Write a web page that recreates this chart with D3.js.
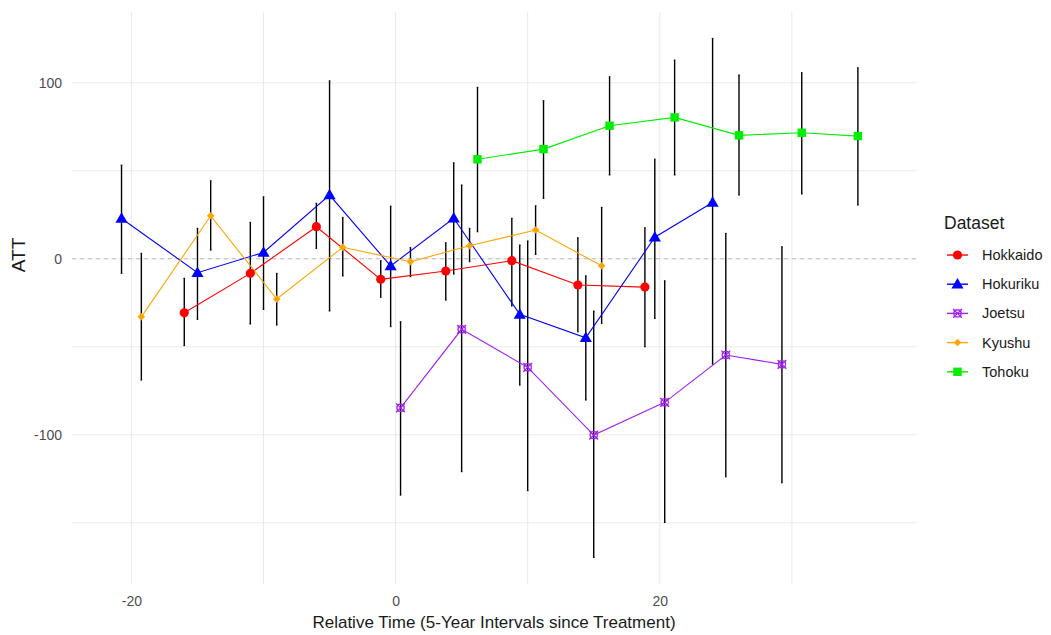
<!DOCTYPE html>
<html>
<head>
<meta charset="utf-8">
<script src="https://cdn.jsdelivr.net/npm/d3@7"></script>
<style>
  body { margin: 0; background: #ffffff; }
  svg { display: block; font-family: "Liberation Sans", Arial, sans-serif; }
</style>
</head>
<body>
<svg id="chart" width="1051" height="635"></svg>
<script>
// Event-study estimates (ATT) by dataset, with confidence bounds
const datasets = ["Hokkaido", "Hokuriku", "Joetsu", "Kyushu", "Tohoku"];

const hokkaidoTime  = [-15, -10, -5, 0, 5, 10, 15, 20];
const hokkaidoATT   = [-30.7, -8.3, 18.2, -11.7, -7.0, -1.1, -14.9, -16.1];
const hokkaidoLower = [-49.4, -37.1, 5.9, -21.9, -23.5, -26.9, -41.5, -50.0];
const hokkaidoUpper = [-11.1, 20.7, 31.5, -1.1, 9.1, 23.0, 11.9, 17.6];

const hokurikuTime  = [-20, -15, -10, -5, 0, 5, 10, 15, 20, 25];
const hokurikuATT   = [22.9, -7.9, 3.6, 36.2, -4.1, 23.0, -31.6, -44.9, 12.2, 32.0];
const hokurikuLower = [-8.3, -34.4, -28.8, -29.7, -38.6, -8.7, -71.8, -80.3, -33.9, -59.9];
const hokurikuUpper = [53.2, 17.3, 35.2, 101.1, 29.9, 54.5, 7.8, -9.7, 56.6, 125.2];

const joetsuTime  = [0, 5, 10, 15, 20, 25, 30];
const joetsuATT   = [-84.7, -40.1, -61.7, -100.2, -81.6, -54.7, -60.0];
const joetsuLower = [-134.3, -121.0, -131.8, -169.7, -149.8, -123.9, -127.3];
const joetsuUpper = [-35.8, 41.9, 10.1, -29.7, -12.5, 14.4, 6.8];

const kyushuTime  = [-20, -15, -10, -5, 0, 5, 10, 15];
const kyushuATT   = [-33.0, 24.4, -22.9, 6.5, -1.7, 7.4, 16.3, -4.0];
const kyushuLower = [-68.9, 4.9, -37.7, -9.8, -10.2, -1.7, 2.5, -36.7];
const kyushuUpper = [3.1, 44.3, -8.3, 23.5, 6.3, 17.3, 30.1, 29.2];

const tohokuTime  = [5, 10, 15, 20, 25, 30, 35];
const tohokuATT   = [56.5, 62.3, 75.6, 80.3, 70.1, 71.6, 69.7];
const tohokuLower = [15.3, 34.3, 47.6, 47.6, 36.2, 36.8, 30.5];
const tohokuUpper = [97.4, 89.8, 103.4, 112.9, 104.4, 105.7, 108.5];

const xTicks = [-20, 0, 20];
const yTicks = [-100, 0, 100];
const xGrid = [-20, -10, 0, 10, 20, 30];
const yGrid = [-150, -100, -50, 0, 50, 100];

const colors = { Hokkaido: "#FF0000", Hokuriku: "#0000FF", Joetsu: "#A020F0", Kyushu: "#FFA500", Tohoku: "#00EE00" };

// assemble long-format rows
function rows(name, t, v, lo, hi) {
  return t.map((d, i) => ({ name, time: d, att: v[i], lower: lo[i], upper: hi[i] }));
}
const series = [
  { name: "Hokkaido", values: rows("Hokkaido", hokkaidoTime, hokkaidoATT, hokkaidoLower, hokkaidoUpper) },
  { name: "Hokuriku", values: rows("Hokuriku", hokurikuTime, hokurikuATT, hokurikuLower, hokurikuUpper) },
  { name: "Joetsu",   values: rows("Joetsu", joetsuTime, joetsuATT, joetsuLower, joetsuUpper) },
  { name: "Kyushu",   values: rows("Kyushu", kyushuTime, kyushuATT, kyushuLower, kyushuUpper) },
  { name: "Tohoku",   values: rows("Tohoku", tohokuTime, tohokuATT, tohokuLower, tohokuUpper) }
];

// side-by-side dodge among the datasets present at each time
const dodgeWidth = 3;
const present = d3.group(series.flatMap(s => s.values), d => d.time);
series.forEach(s => s.values.forEach(d => {
  const grp = present.get(d.time).map(r => r.name).sort((a, b) => datasets.indexOf(a) - datasets.indexOf(b));
  const n = grp.length, i = grp.indexOf(d.name);
  d.xd = d.time + (i - (n - 1) / 2) * (dodgeWidth / n);
}));

const panel = { left: 72, right: 916, top: 12, bottom: 584 };
const x = d3.scaleLinear().domain([-24.5, 39.4]).range([panel.left, panel.right]);
const y = d3.scaleLinear().domain([-184.8, 140.2]).range([panel.bottom, panel.top]);

const svg = d3.select("#chart");

// grid
const grid = svg.append("g");
grid.selectAll("line.v").data(xGrid).join("line")
  .attr("x1", d => x(d)).attr("x2", d => x(d))
  .attr("y1", panel.top).attr("y2", panel.bottom)
  .attr("stroke", "#EBEBEB").attr("stroke-width", 1.1);
grid.selectAll("line.h").data(yGrid).join("line")
  .attr("y1", d => y(d)).attr("y2", d => y(d))
  .attr("x1", panel.left).attr("x2", panel.right)
  .attr("stroke", "#EBEBEB").attr("stroke-width", 1.1);

// reference line at zero
svg.append("line")
  .attr("x1", panel.left).attr("x2", panel.right)
  .attr("y1", y(0)).attr("y2", y(0))
  .attr("stroke", "#BDBDBD").attr("stroke-width", 1.1)
  .attr("stroke-dasharray", "4,4");

// axes (labels only)
const fmt = d => String(d);
const xAxis = svg.append("g").attr("transform", `translate(0,${panel.bottom + 6})`)
  .call(d3.axisBottom(x).tickValues(xTicks).tickSize(0).tickPadding(6).tickFormat(fmt));
xAxis.select(".domain").remove();
xAxis.selectAll("text").attr("fill", "#4D4D4D").attr("font-size", 14).attr("font-family", "Liberation Sans, Arial, sans-serif");

const yAxis = svg.append("g").attr("transform", `translate(${panel.left - 7},0)`)
  .call(d3.axisLeft(y).tickValues(yTicks).tickSize(0).tickPadding(3).tickFormat(fmt));
yAxis.select(".domain").remove();
yAxis.selectAll("text").attr("fill", "#4D4D4D").attr("font-size", 14).attr("font-family", "Liberation Sans, Arial, sans-serif");

// axis titles
svg.append("text")
  .attr("x", (panel.left + panel.right) / 2).attr("y", 628)
  .attr("text-anchor", "middle").attr("font-size", 17).attr("fill", "#1a1a1a")
  .text("Relative Time (5-Year Intervals since Treatment)");
svg.append("text")
  .attr("transform", "translate(25,255) rotate(-90)")
  .attr("text-anchor", "middle").attr("font-size", 19).attr("fill", "#1a1a1a")
  .text("ATT");

// error bars
const capHalf = 0.06;
const eb = svg.append("g");
series.forEach(s => {
  const g = eb.append("g");
  g.selectAll("line.bar").data(s.values).join("line")
    .attr("x1", d => x(d.xd)).attr("x2", d => x(d.xd))
    .attr("y1", d => y(d.upper)).attr("y2", d => y(d.lower))
    .attr("stroke", "#000").attr("stroke-width", 1.4);
  g.selectAll("line.capT").data(s.values).join("line")
    .attr("x1", d => x(d.xd - capHalf)).attr("x2", d => x(d.xd + capHalf))
    .attr("y1", d => y(d.upper)).attr("y2", d => y(d.upper))
    .attr("stroke", "#000").attr("stroke-width", 1);
  g.selectAll("line.capB").data(s.values).join("line")
    .attr("x1", d => x(d.xd - capHalf)).attr("x2", d => x(d.xd + capHalf))
    .attr("y1", d => y(d.lower)).attr("y2", d => y(d.lower))
    .attr("stroke", "#000").attr("stroke-width", 1);
});

// connecting lines
const line = d3.line().x(d => x(d.xd)).y(d => y(d.att));
svg.append("g").selectAll("path").data(series).join("path")
  .attr("d", s => line(s.values))
  .attr("fill", "none")
  .attr("stroke", s => colors[s.name])
  .attr("stroke-width", 1.1);

// point markers
function marker(g, name, cx, cy, scale) {
  const c = colors[name];
  const k = scale || 1;
  if (name === "Hokkaido") {
    g.append("circle").attr("cx", cx).attr("cy", cy).attr("r", 4.6 * k).attr("fill", c);
  } else if (name === "Hokuriku") {
    const sym = d3.symbol().type(d3.symbolTriangle).size(64 * k * k);
    g.append("path").attr("d", sym()).attr("transform", `translate(${cx},${cy + 0.8})`).attr("fill", c);
  } else if (name === "Joetsu") {
    const r = 3.6 * k;
    g.append("circle").attr("cx", cx).attr("cy", cy).attr("r", r)
      .attr("fill", "none").attr("stroke", c).attr("stroke-width", 1.2);
    const e = 4.4 * k;
    g.append("path").attr("d", `M${cx - e},${cy - e}L${cx + e},${cy + e}M${cx - e},${cy + e}L${cx + e},${cy - e}`)
      .attr("stroke", c).attr("stroke-width", 1.2);
    g.append("rect").attr("x", cx - r).attr("y", cy - r).attr("width", 2 * r).attr("height", 2 * r)
      .attr("fill", "none").attr("stroke", c).attr("stroke-width", 0.8).attr("stroke-opacity", 0.6);
  } else if (name === "Kyushu") {
    const sym = d3.symbol().type(d3.symbolDiamond2).size(36 * k * k);
    g.append("path").attr("d", sym()).attr("transform", `translate(${cx},${cy})`).attr("fill", c);
  } else {
    const s = 8.4 * k;
    g.append("rect").attr("x", cx - s / 2).attr("y", cy - s / 2).attr("width", s).attr("height", s).attr("fill", c);
  }
}
const pts = svg.append("g");
series.forEach(s => s.values.forEach(d => marker(pts, s.name, x(d.xd), y(d.att))));

// legend
const legend = svg.append("g");
legend.append("text").attr("x", 944).attr("y", 229)
  .attr("font-size", 17.5).attr("fill", "#1a1a1a").text("Dataset");
datasets.forEach((name, i) => {
  const cy = 255 + i * 29.2;
  legend.append("line").attr("x1", 947).attr("x2", 968).attr("y1", cy).attr("y2", cy)
    .attr("stroke", colors[name]).attr("stroke-width", 1.4);
  marker(legend, name, 957.5, cy, 1);
  legend.append("text").attr("x", 982).attr("y", cy + 5)
    .attr("font-size", 14.5).attr("fill", "#1a1a1a").text(name);
});
</script>
</body>
</html>
